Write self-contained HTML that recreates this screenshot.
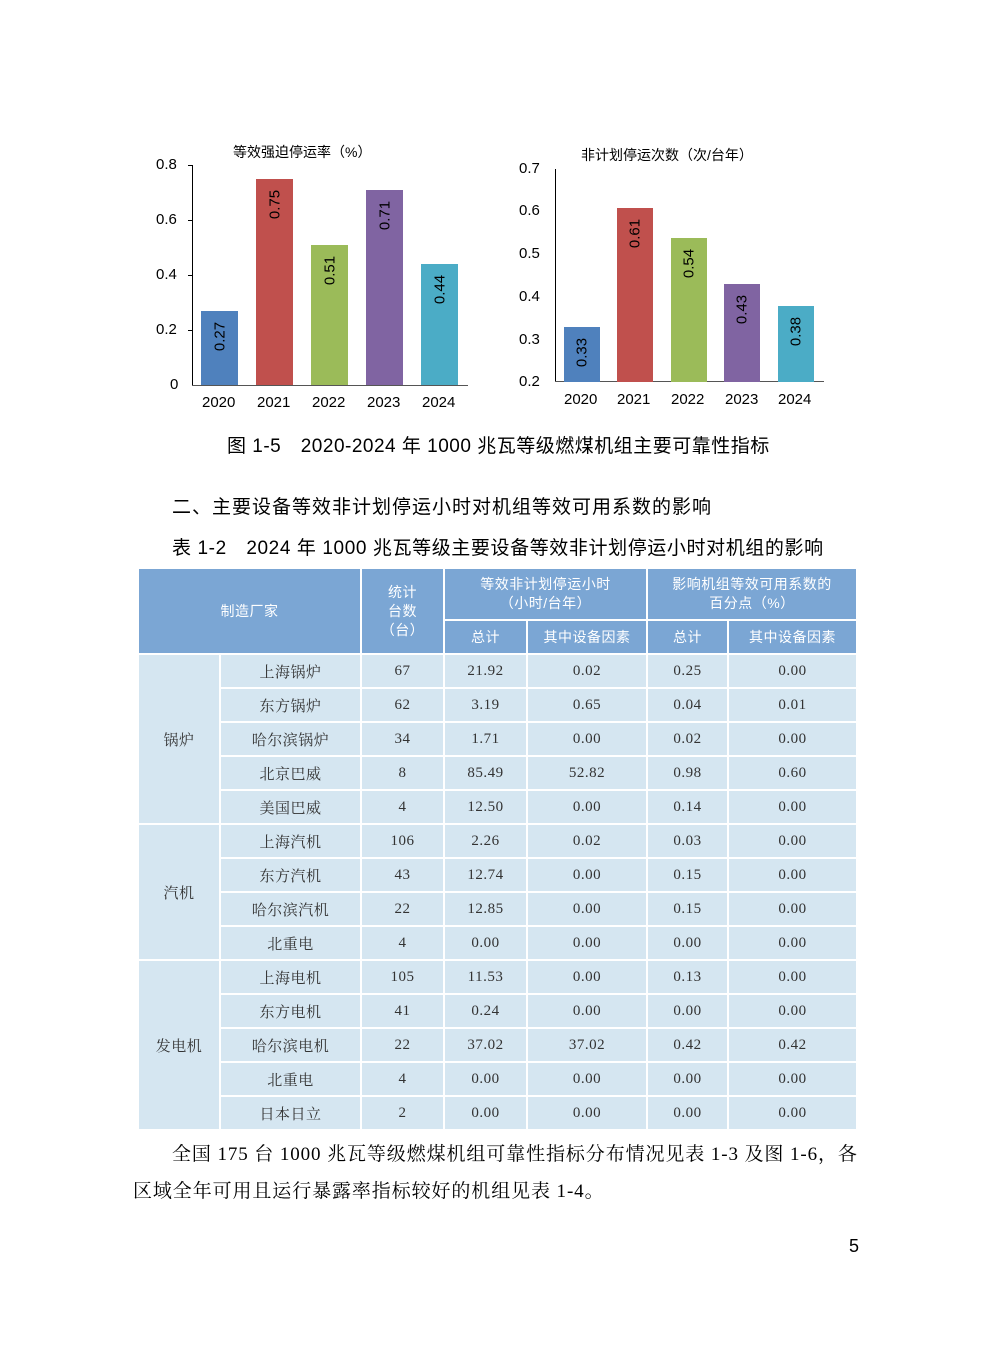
<!DOCTYPE html>
<html><head><meta charset="utf-8"><style>
body{margin:0;width:992px;height:1347px;background:#fff;position:relative;font-family:"Liberation Sans","Noto Sans CJK SC",sans-serif;overflow:hidden}
.a{position:absolute}
.t{position:absolute;font-size:15px;color:#000;white-space:nowrap}
.bar{position:absolute}
.bl{position:absolute;color:#000;font-size:15px;transform:rotate(-90deg);transform-origin:center;white-space:nowrap;text-align:center;width:40px}
table{position:absolute;left:137px;top:567px;border-collapse:collapse;table-layout:fixed;font-family:"Liberation Serif","Noto Serif CJK SC",serif;font-size:15px;color:#333}
td{border:2px solid #fff;text-align:center;padding:0;background:#d5e6f1;height:32px;letter-spacing:0.5px}
td.h{background:#7ba6d4;color:#fff;font-family:"Liberation Sans","Noto Sans CJK SC",sans-serif;line-height:19px;font-size:14px}
.p{position:absolute;font-family:"Liberation Serif","Noto Serif CJK SC",serif;font-size:19px;color:#000;white-space:nowrap;letter-spacing:0.9px}
</style></head><body>
<div class="t" style="left:233px;top:142px;font-size:14px">等效强迫停运率（%）</div>
<div class="a" style="left:192px;top:165px;width:1px;height:221px;background:#000"></div>
<div class="a" style="left:192px;top:385px;width:276px;height:1px;background:#555"></div>
<div class="t" style="left:156px;top:156px">0.8</div>
<div class="t" style="left:156px;top:211px">0.6</div>
<div class="t" style="left:156px;top:266px">0.4</div>
<div class="t" style="left:156px;top:321px">0.2</div>
<div class="t" style="left:170px;top:376px">0</div>
<div class="a" style="left:188px;top:165px;width:5px;height:1px;background:#000"></div>
<div class="a" style="left:188px;top:220px;width:5px;height:1px;background:#000"></div>
<div class="a" style="left:188px;top:275px;width:5px;height:1px;background:#000"></div>
<div class="a" style="left:188px;top:330px;width:5px;height:1px;background:#000"></div>
<div class="bar" style="left:201px;top:311px;width:37px;height:74px;background:#4f81bd"></div>
<div class="bar" style="left:256px;top:179px;width:37px;height:206px;background:#c0504d"></div>
<div class="bar" style="left:311px;top:245px;width:37px;height:140px;background:#9bbb59"></div>
<div class="bar" style="left:366px;top:190px;width:37px;height:195px;background:#8064a2"></div>
<div class="bar" style="left:421px;top:264px;width:37px;height:121px;background:#4bacc6"></div>
<div class="bl" style="left:200px;top:328px">0.27</div>
<div class="bl" style="left:255px;top:196px">0.75</div>
<div class="bl" style="left:310px;top:262px">0.51</div>
<div class="bl" style="left:365px;top:207px">0.71</div>
<div class="bl" style="left:420px;top:281px">0.44</div>
<div class="t" style="left:202px;top:394px">2020</div>
<div class="t" style="left:257px;top:394px">2021</div>
<div class="t" style="left:312px;top:394px">2022</div>
<div class="t" style="left:367px;top:394px">2023</div>
<div class="t" style="left:422px;top:394px">2024</div>
<div class="t" style="left:581px;top:145px;font-size:14px">非计划停运次数（次/台年）</div>
<div class="a" style="left:555px;top:169px;width:1px;height:213px;background:#000"></div>
<div class="a" style="left:555px;top:381px;width:269px;height:1px;background:#555"></div>
<div class="t" style="left:519px;top:160px">0.7</div>
<div class="t" style="left:519px;top:202px">0.6</div>
<div class="t" style="left:519px;top:245px">0.5</div>
<div class="t" style="left:519px;top:288px">0.4</div>
<div class="t" style="left:519px;top:331px">0.3</div>
<div class="t" style="left:519px;top:373px">0.2</div>
<div class="bar" style="left:564px;top:327px;width:36px;height:55px;background:#4f81bd"></div>
<div class="bar" style="left:617px;top:208px;width:36px;height:174px;background:#c0504d"></div>
<div class="bar" style="left:671px;top:238px;width:36px;height:144px;background:#9bbb59"></div>
<div class="bar" style="left:724px;top:284px;width:36px;height:98px;background:#8064a2"></div>
<div class="bar" style="left:778px;top:306px;width:36px;height:76px;background:#4bacc6"></div>
<div class="bl" style="left:562px;top:344px">0.33</div>
<div class="bl" style="left:615px;top:225px">0.61</div>
<div class="bl" style="left:669px;top:255px">0.54</div>
<div class="bl" style="left:722px;top:301px">0.43</div>
<div class="bl" style="left:776px;top:323px">0.38</div>
<div class="t" style="left:564px;top:391px">2020</div>
<div class="t" style="left:617px;top:391px">2021</div>
<div class="t" style="left:671px;top:391px">2022</div>
<div class="t" style="left:725px;top:391px">2023</div>
<div class="t" style="left:778px;top:391px">2024</div>
<div class="t" style="left:227px;top:431px;font-size:19px;letter-spacing:0.5px">图 1-5　2020-2024 年 1000 兆瓦等级燃煤机组主要可靠性指标</div>
<div class="t" style="left:172px;top:492px;font-size:19px;letter-spacing:1px">二、主要设备等效非计划停运小时对机组等效可用系数的影响</div>
<div class="t" style="left:172px;top:533px;font-size:19px;letter-spacing:0.6px">表 1-2　2024 年 1000 兆瓦等级主要设备等效非计划停运小时对机组的影响</div>
<table>
<colgroup><col style="width:82px"><col style="width:141px"><col style="width:83px"><col style="width:83px"><col style="width:120px"><col style="width:81px"><col style="width:129px"></colgroup>
<tr><td class="h" colspan="2" rowspan="2">制造厂家</td><td class="h" rowspan="2">统计<br>台数<br>（台）</td><td class="h" colspan="2" style="height:50px">等效非计划停运小时<br>（小时/台年）</td><td class="h" colspan="2">影响机组等效可用系数的<br>百分点（%）</td></tr>
<tr><td class="h" style="height:30px">总计</td><td class="h">其中设备因素</td><td class="h">总计</td><td class="h">其中设备因素</td></tr>
<tr><td rowspan="5">锅炉</td><td>上海锅炉</td><td>67</td><td>21.92</td><td>0.02</td><td>0.25</td><td>0.00</td></tr>
<tr><td>东方锅炉</td><td>62</td><td>3.19</td><td>0.65</td><td>0.04</td><td>0.01</td></tr>
<tr><td>哈尔滨锅炉</td><td>34</td><td>1.71</td><td>0.00</td><td>0.02</td><td>0.00</td></tr>
<tr><td>北京巴威</td><td>8</td><td>85.49</td><td>52.82</td><td>0.98</td><td>0.60</td></tr>
<tr><td>美国巴威</td><td>4</td><td>12.50</td><td>0.00</td><td>0.14</td><td>0.00</td></tr>
<tr><td rowspan="4">汽机</td><td>上海汽机</td><td>106</td><td>2.26</td><td>0.02</td><td>0.03</td><td>0.00</td></tr>
<tr><td>东方汽机</td><td>43</td><td>12.74</td><td>0.00</td><td>0.15</td><td>0.00</td></tr>
<tr><td>哈尔滨汽机</td><td>22</td><td>12.85</td><td>0.00</td><td>0.15</td><td>0.00</td></tr>
<tr><td>北重电</td><td>4</td><td>0.00</td><td>0.00</td><td>0.00</td><td>0.00</td></tr>
<tr><td rowspan="5">发电机</td><td>上海电机</td><td>105</td><td>11.53</td><td>0.00</td><td>0.13</td><td>0.00</td></tr>
<tr><td>东方电机</td><td>41</td><td>0.24</td><td>0.00</td><td>0.00</td><td>0.00</td></tr>
<tr><td>哈尔滨电机</td><td>22</td><td>37.02</td><td>37.02</td><td>0.42</td><td>0.42</td></tr>
<tr><td>北重电</td><td>4</td><td>0.00</td><td>0.00</td><td>0.00</td><td>0.00</td></tr>
<tr><td>日本日立</td><td>2</td><td>0.00</td><td>0.00</td><td>0.00</td><td>0.00</td></tr>
</table>
<div class="p" style="left:172px;top:1139px">全国 175 台 1000 兆瓦等级燃煤机组可靠性指标分布情况见表 1-3 及图 1-6，各</div>
<div class="p" style="left:133px;top:1176px">区域全年可用且运行暴露率指标较好的机组见表 1-4。</div>
<div class="t" style="left:849px;top:1236px;font-size:18px">5</div>
</body></html>
